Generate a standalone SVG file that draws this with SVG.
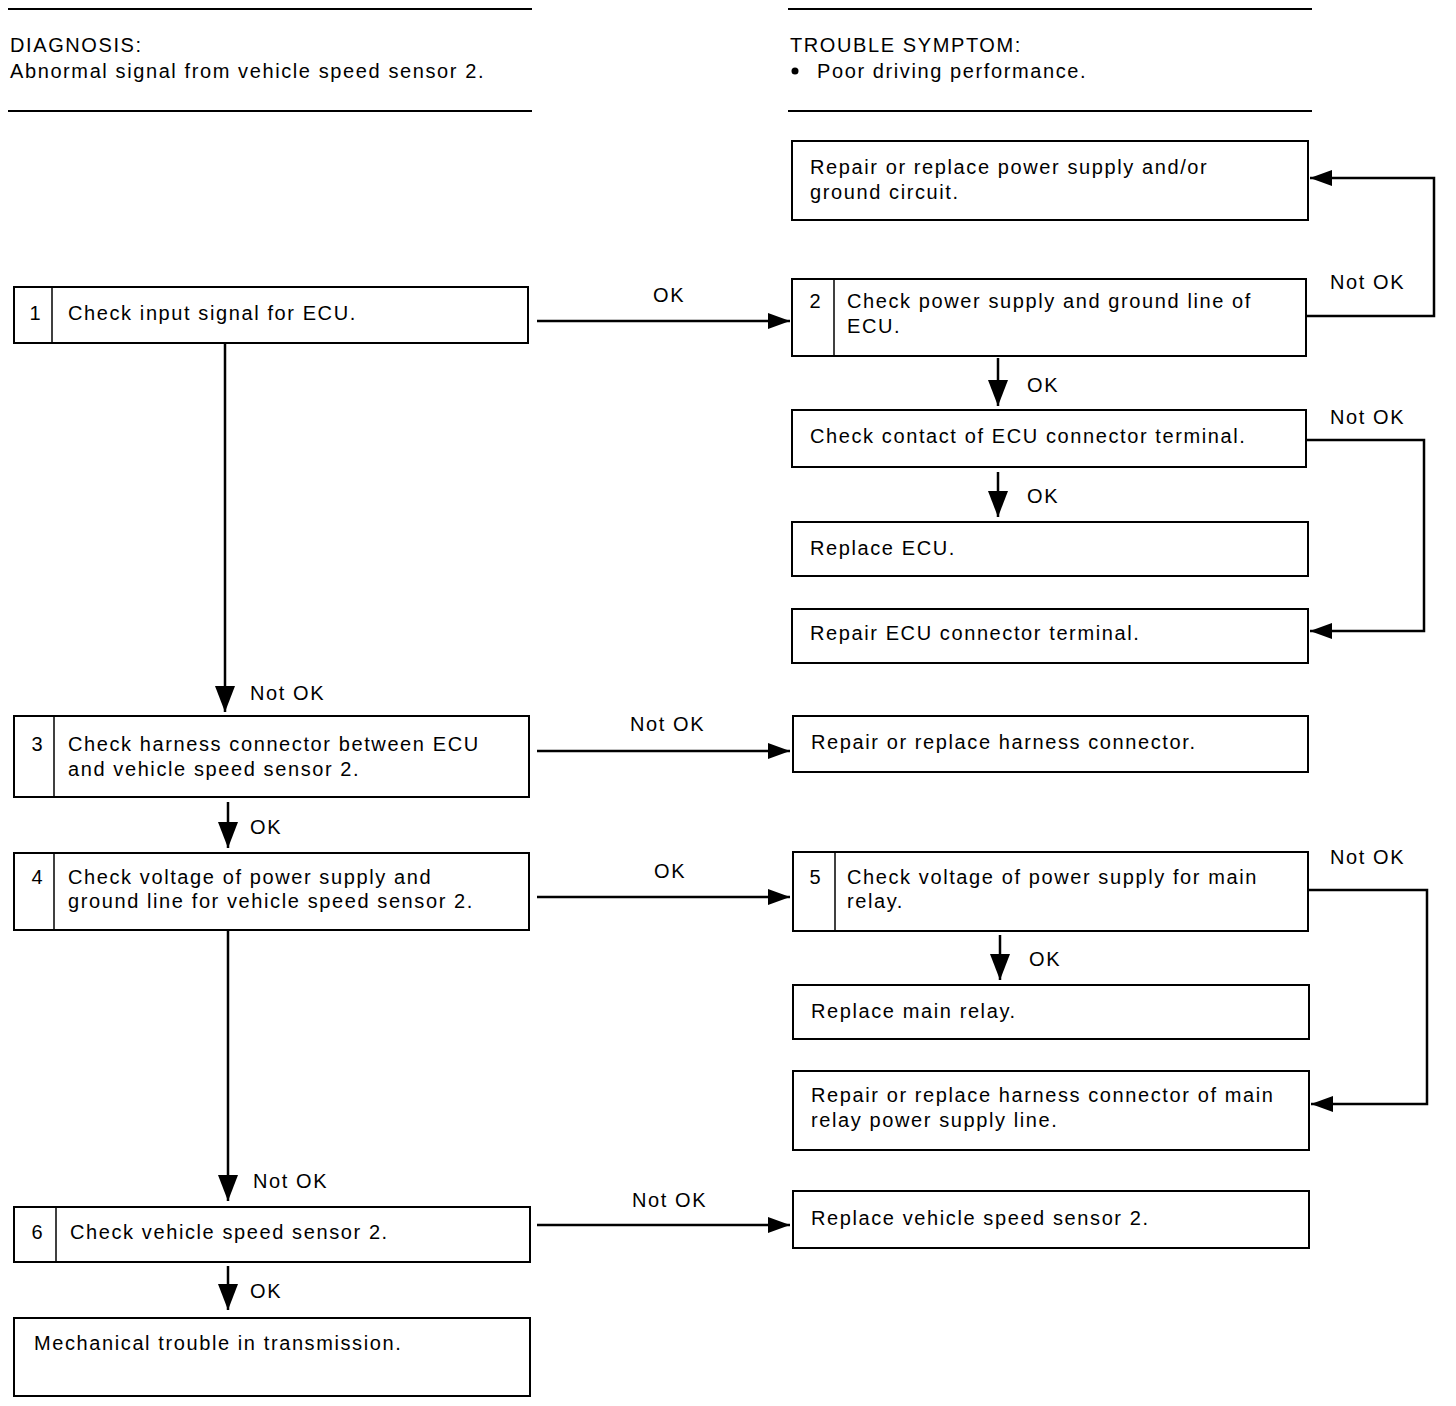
<svg xmlns="http://www.w3.org/2000/svg" width="1456" height="1406" viewBox="0 0 1456 1406">
<style>
text{font-family:"Liberation Sans",Arial,sans-serif;font-size:20px;fill:#000;letter-spacing:1.6px}
.n{text-anchor:middle;letter-spacing:0}
.box{fill:#fff;stroke:#000;stroke-width:2}
.div{stroke:#000;stroke-width:1.5}
.rule{stroke:#000;stroke-width:2}
.c{fill:none;stroke:#000;stroke-width:2.5}
</style>
<defs>
<marker id="ah" viewBox="0 0 22 16" refX="22" refY="8" markerWidth="22" markerHeight="16" markerUnits="userSpaceOnUse" orient="auto">
<path d="M0,0 L22,8 L0,16 Z" fill="#000"/>
</marker>
<marker id="av" viewBox="0 0 26 20" refX="26" refY="10" markerWidth="26" markerHeight="20" markerUnits="userSpaceOnUse" orient="auto">
<path d="M0,0 L26,10 L0,20 Z" fill="#000"/>
</marker>
</defs>
<g id="header">
<line class="rule" x1="8" y1="9" x2="532" y2="9"/>
<line class="rule" x1="8" y1="111" x2="532" y2="111"/>
<line class="rule" x1="788" y1="9" x2="1312" y2="9"/>
<line class="rule" x1="788" y1="111" x2="1312" y2="111"/>
<text x="10" y="52">DIAGNOSIS:</text>
<text x="10" y="78">Abnormal signal from vehicle speed sensor 2.</text>
<text x="790" y="52">TROUBLE SYMPTOM:</text>
<circle cx="795" cy="71" r="3.5" fill="#000"/>
<text x="817" y="78">Poor driving performance.</text>
</g>
<g id="connectors">
<line class="c" x1="537" y1="321" x2="790" y2="321" marker-end="url(#ah)"/>
<text x="653" y="302">OK</text>
<polyline class="c" points="1306,316 1434,316 1434,178 1310,178" marker-end="url(#ah)"/>
<text x="1330" y="289">Not OK</text>
<line class="c" x1="998" y1="358" x2="998" y2="406" marker-end="url(#av)"/>
<text x="1027" y="392">OK</text>
<polyline class="c" points="1306,440 1424,440 1424,631 1310,631" marker-end="url(#ah)"/>
<text x="1330" y="424">Not OK</text>
<line class="c" x1="998" y1="472" x2="998" y2="517" marker-end="url(#av)"/>
<text x="1027" y="503">OK</text>
<line class="c" x1="225" y1="343" x2="225" y2="712" marker-end="url(#av)"/>
<text x="250" y="700">Not OK</text>
<line class="c" x1="537" y1="751" x2="790" y2="751" marker-end="url(#ah)"/>
<text x="630" y="731">Not OK</text>
<line class="c" x1="228" y1="802" x2="228" y2="848" marker-end="url(#av)"/>
<text x="250" y="834">OK</text>
<line class="c" x1="537" y1="897" x2="790" y2="897" marker-end="url(#ah)"/>
<text x="654" y="878">OK</text>
<polyline class="c" points="1308,890 1427,890 1427,1104 1311,1104" marker-end="url(#ah)"/>
<text x="1330" y="864">Not OK</text>
<line class="c" x1="1000" y1="935" x2="1000" y2="980" marker-end="url(#av)"/>
<text x="1029" y="966">OK</text>
<line class="c" x1="228" y1="930" x2="228" y2="1201" marker-end="url(#av)"/>
<text x="253" y="1188">Not OK</text>
<line class="c" x1="537" y1="1225" x2="790" y2="1225" marker-end="url(#ah)"/>
<text x="632" y="1207">Not OK</text>
<line class="c" x1="228" y1="1266" x2="228" y2="1310" marker-end="url(#av)"/>
<text x="250" y="1298">OK</text>
</g>
<g id="n-repair-power">
<rect class="box" x="792" y="141" width="516" height="79"/>
<text x="810" y="174">Repair or replace power supply and/or</text>
<text x="810" y="199">ground circuit.</text>
</g>
<g id="n1">
<rect class="box" x="14" y="287" width="514" height="56"/>
<line class="div" x1="52" y1="287" x2="52" y2="343"/>
<text class="n" x="35" y="320">1</text>
<text x="68" y="320">Check input signal for ECU.</text>
</g>
<g id="n2">
<rect class="box" x="792" y="279" width="514" height="77"/>
<line class="div" x1="834" y1="279" x2="834" y2="356"/>
<text class="n" x="815" y="308">2</text>
<text x="847" y="308">Check power supply and ground line of</text>
<text x="847" y="333">ECU.</text>
</g>
<g id="n-check-contact">
<rect class="box" x="792" y="410" width="514" height="57"/>
<text x="810" y="443">Check contact of ECU connector terminal.</text>
</g>
<g id="n-replace-ecu">
<rect class="box" x="792" y="522" width="516" height="54"/>
<text x="810" y="555">Replace ECU.</text>
</g>
<g id="n-repair-terminal">
<rect class="box" x="792" y="609" width="516" height="54"/>
<text x="810" y="640">Repair ECU connector terminal.</text>
</g>
<g id="n3">
<rect class="box" x="14" y="716" width="515" height="81"/>
<line class="div" x1="54" y1="716" x2="54" y2="797"/>
<text class="n" x="37" y="751">3</text>
<text x="68" y="751">Check harness connector between ECU</text>
<text x="68" y="776">and vehicle speed sensor 2.</text>
</g>
<g id="n-repair-harness">
<rect class="box" x="793" y="716" width="515" height="56"/>
<text x="811" y="749">Repair or replace harness connector.</text>
</g>
<g id="n4">
<rect class="box" x="14" y="853" width="515" height="77"/>
<line class="div" x1="54" y1="853" x2="54" y2="930"/>
<text class="n" x="37" y="884">4</text>
<text x="68" y="884">Check voltage of power supply and</text>
<text x="68" y="908">ground line for vehicle speed sensor 2.</text>
</g>
<g id="n5">
<rect class="box" x="793" y="852" width="515" height="79"/>
<line class="div" x1="835" y1="852" x2="835" y2="931"/>
<text class="n" x="815" y="884">5</text>
<text x="847" y="884">Check voltage of power supply for main</text>
<text x="847" y="908">relay.</text>
</g>
<g id="n-replace-relay">
<rect class="box" x="793" y="985" width="516" height="54"/>
<text x="811" y="1018">Replace main relay.</text>
</g>
<g id="n-repair-relay-line">
<rect class="box" x="793" y="1071" width="516" height="79"/>
<text x="811" y="1102">Repair or replace harness connector of main</text>
<text x="811" y="1127">relay power supply line.</text>
</g>
<g id="n6">
<rect class="box" x="14" y="1207" width="516" height="55"/>
<line class="div" x1="56" y1="1207" x2="56" y2="1262"/>
<text class="n" x="37" y="1239">6</text>
<text x="70" y="1239">Check vehicle speed sensor 2.</text>
</g>
<g id="n-replace-sensor">
<rect class="box" x="793" y="1191" width="516" height="57"/>
<text x="811" y="1225">Replace vehicle speed sensor 2.</text>
</g>
<g id="n-mechanical">
<rect class="box" x="14" y="1318" width="516" height="78"/>
<text x="34" y="1350">Mechanical trouble in transmission.</text>
</g>
</svg>
